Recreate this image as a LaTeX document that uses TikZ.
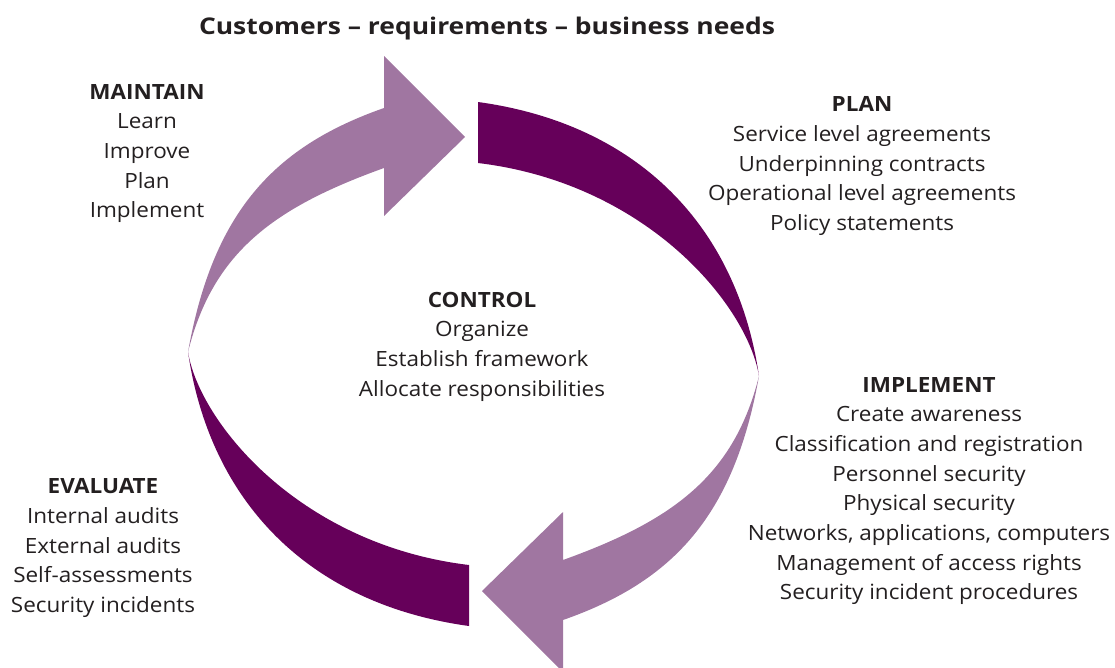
\documentclass[tikz,border=0pt]{standalone}
\usepackage{fontspec}
\setmainfont{Open Sans}
\newfontfamily\bodyfont[FakeStretch=1.07]{Open Sans}
\newfontfamily\titlefont[FakeStretch=1.15]{Open Sans}
\definecolor{lightpurple}{RGB}{160,118,161}
\definecolor{darkpurple}{RGB}{102,0,90}
\definecolor{txt}{RGB}{35,31,32}
\begin{document}
\begin{tikzpicture}[x=1pt,y=-1pt,
  lbl/.style={align=center,text=txt,inner sep=0pt,font=\bodyfont\fontsize{21}{29.7}\selectfont},
  darkpiece/.style={fill=darkpurple,draw=none},
  lightpiece/.style={fill=lightpurple,draw=none}]
\useasboundingbox (0,0) rectangle (1115,667);
% upper half
\fill[darkpiece] (478,102) .. controls (638,124) and (737,226) .. (759,376)
   .. controls (747.5,306) and (648,183.4) .. (478,163) -- cycle;
\fill[lightpiece] (188,352) .. controls (213,212) and (274,146.5) .. (384,108)
   -- (384,56) -- (465,137) -- (384,216) -- (384,168)
   .. controls (274,207.6) and (213,252) .. (188,352) -- cycle;
% lower half (point symmetric)
\begin{scope}[rotate around={180:(473.5,364)}]
\fill[darkpiece] (478,102) .. controls (638,124) and (737,226) .. (759,376)
   .. controls (747.5,306) and (648,183.4) .. (478,163) -- cycle;
\fill[lightpiece] (188,352) .. controls (213,212) and (274,146.5) .. (384,108)
   -- (384,56) -- (465,137) -- (384,216) -- (384,168)
   .. controls (274,207.6) and (213,252) .. (188,352) -- cycle;
\end{scope}
\node[text=txt,inner sep=0pt,font=\titlefont\fontsize{23}{26}\selectfont\bfseries] (title) at (487,29) {Customers – requirements – business needs};
\node[lbl] (maintain) at (147,153.5) {\textbf{MAINTAIN}\\Learn\\Improve\\Plan\\Implement};
\node[lbl] (plan) at (862,166) {\textbf{PLAN}\\Service level agreements\\Underpinning contracts\\Operational level agreements\\Policy statements};
\node[lbl] (control) at (482,346.5) {\textbf{CONTROL}\\Organize\\Establish framework\\Allocate responsibilities};
\node[lbl] (implement) at (929,491) {\textbf{IMPLEMENT}\\Create awareness\\Classification and registration\\Personnel security\\Physical security\\Networks, applications, computers\\Management of access rights\\Security incident procedures};
\node[lbl] (evaluate) at (103,548) {\textbf{EVALUATE}\\Internal audits\\External audits\\Self-assessments\\Security incidents};
\end{tikzpicture}
\end{document}
